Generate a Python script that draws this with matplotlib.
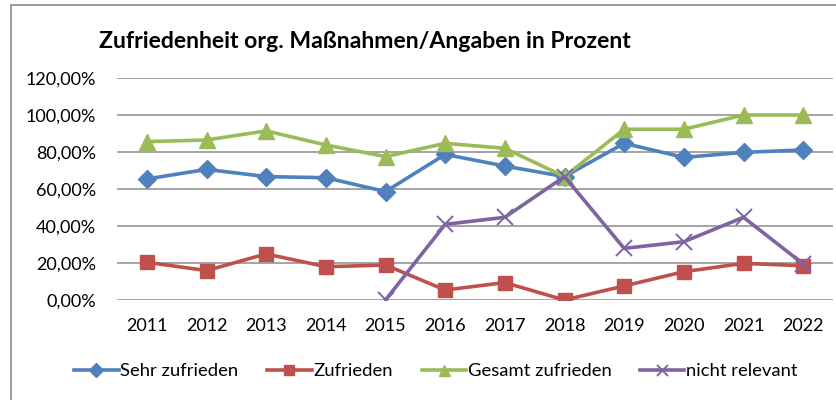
import matplotlib
matplotlib.use("Agg")
import matplotlib.pyplot as plt
from matplotlib.patches import Rectangle
from matplotlib.ticker import FuncFormatter

plt.rcParams['font.family'] = ['Lato', 'DejaVu Sans']

years = ["2011", "2012", "2013", "2014", "2015", "2016", "2017", "2018", "2019", "2020", "2021", "2022"]
sehr_zufrieden = [65.4, 70.6, 66.7, 66.1, 58.6, 78.7, 72.4, 66.7, 84.7, 77.1, 79.8, 81.1]
zufrieden = [20.4, 15.9, 24.9, 18.0, 18.9, 5.4, 9.4, 0.0, 7.6, 15.3, 19.8, 18.5]
gesamt_zufrieden = [85.6, 86.5, 91.4, 83.8, 77.5, 84.7, 82.0, 66.7, 92.3, 92.3, 100.0, 100.0]
nicht_relevant_years = ["2015", "2016", "2017", "2018", "2019", "2020", "2021", "2022"]
nicht_relevant = [0.0, 40.9, 44.7, 66.7, 27.9, 31.5, 44.7, 19.5]

series_names = ["Sehr zufrieden", "Zufrieden", "Gesamt zufrieden", "nicht relevant"]
colors = ["#4F81BD", "#C0504D", "#9BBB59", "#8064A2"]

fig = plt.figure(figsize=(8.36, 4.0), dpi=100)
fig.patches.append(Rectangle((11/836, -0.1), 1.2, 1.1 - 5/400, transform=fig.transFigure,
                             fill=False, edgecolor="#8C8C8C", linewidth=1.2))
ax = fig.add_axes([117/836, 1 - 300/400, (833 - 117)/836, (300 - 78)/400])

x = list(range(len(years)))
xi = {y: i for i, y in enumerate(years)}
xn = [xi[y] for y in nicht_relevant_years]

lw = 2.6
ax.plot(x, [v/100 for v in sehr_zufrieden], color=colors[0], lw=lw, marker="D", ms=9.5, label=series_names[0], zorder=3)
ax.plot(x, [v/100 for v in zufrieden], color=colors[1], lw=lw, marker="s", ms=10.5, label=series_names[1], zorder=3)
ax.plot(x, [v/100 for v in gesamt_zufrieden], color=colors[2], lw=lw, marker="^", ms=11, label=series_names[2], zorder=3)
ax.plot(xn, [v/100 for v in nicht_relevant], color=colors[3], lw=lw, marker="x", ms=11, mew=1.4, label=series_names[3], zorder=4)

ax.set_xlim(-0.5, len(years) - 0.5)
ax.set_ylim(0, 1.2)
ax.set_yticks([0, 0.2, 0.4, 0.6, 0.8, 1.0, 1.2])
ax.yaxis.set_major_formatter(FuncFormatter(lambda v, p: f"{v*100:.2f}%".replace(".", ",")))
ax.set_xticks(x)
ax.set_xticklabels(years)
ax.tick_params(axis="both", length=0, labelsize=13, colors="black")
ax.tick_params(axis="y", pad=15)
ax.tick_params(axis="x", pad=13)
ax.grid(axis="y", color="#8C8C8C", lw=1.1)
ax.set_axisbelow(True)
for s in ax.spines.values():
    s.set_visible(False)

fig.text(364.5/836, 1 - 48/400, "Zufriedenheit org. Maßnahmen/Angaben in Prozent",
         ha="center", va="baseline", fontsize=16.6, fontweight="bold")

fig.legend(loc="center", bbox_to_anchor=(436/836, 1 - 371/400), ncol=4, frameon=False,
           fontsize=13.3, handlelength=2.4, handletextpad=0.1, columnspacing=1.55, markerscale=0.72)

fig.savefig("out.png", dpi=100)
